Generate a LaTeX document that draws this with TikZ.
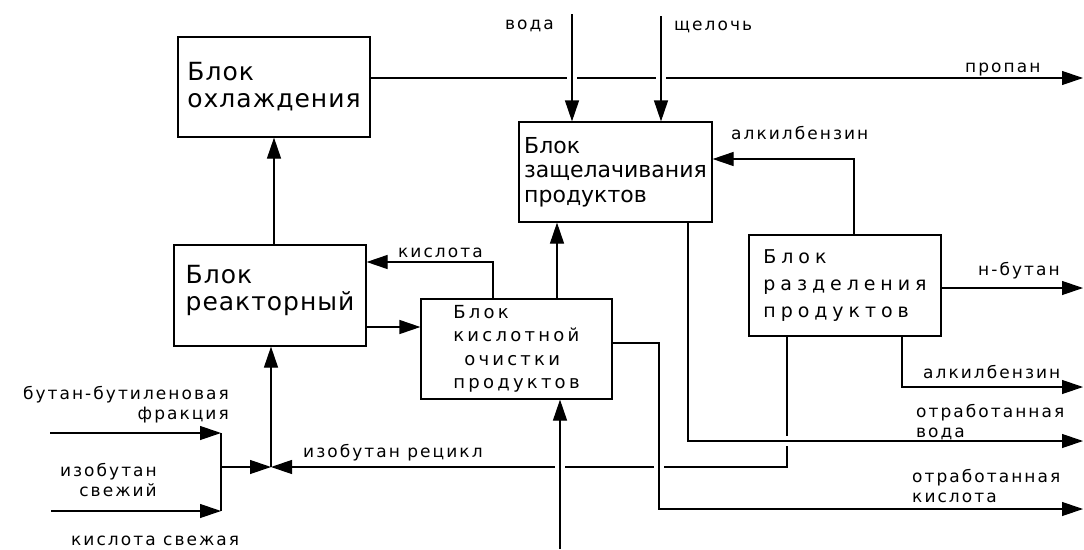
\documentclass[tikz,border=0pt]{standalone}
\usepackage{fontspec}
\setmainfont{DejaVu Sans}
\newfontfamily\cadfont{DejaVu Sans}
\usetikzlibrary{arrows.meta,positioning,calc}

\begin{document}
\begin{tikzpicture}[
  x=1pt,y=-1pt,
  line join=miter,
  flowline/.style={black,line width=1.2pt},
  flow/.style={flowline,-{Triangle[length=21pt,width=14pt]}},
  halo/.style={white,line width=10pt},
  block/.style={draw=black,line width=1.2pt,align=left,inner sep=0pt,
    minimum width=192pt,minimum height=100pt},
  bigbox/.style={font=\cadfont\fontsize{25}{27}\selectfont\addfontfeature{LetterSpace=4}},
  alkbox/.style={font=\cadfont\fontsize{22}{24.5}\selectfont},
  acidbox/.style={font=\cadfont\fontsize{18}{23.5}\selectfont\addfontfeature{LetterSpace=18}},
  sepbox/.style={font=\cadfont\fontsize{19}{27}\selectfont\addfontfeature{LetterSpace=26}},
  lbl/.style={font=\cadfont\fontsize{17}{20}\selectfont\addfontfeature{LetterSpace=12},inner sep=0pt}
]
\useasboundingbox[fill=white] (0,0) rectangle (1084,549);

% blocks
\node[block,bigbox] (cool) at (274,87) {Блок\\охлаждения};
\node[block,bigbox,minimum height=101pt] (reac) at (270,295.5) {Блок\\реакторный\\[-12pt]\mbox{}};
\node[block,alkbox,minimum width=193pt] (alk) at (615.5,172) {Блок\\защелачивания\\продуктов};
\node[block,acidbox,minimum width=191pt] (acid) at (516.5,349)
  {Блок\\кислотной\\\hphantom{к}очистки\\продуктов};
\node[block,sepbox,minimum height=101pt] (sep) at (845,285.5) {Блок\\разделения\\продуктов};

% free ends and bends
\coordinate (propanout) at (1083,78);
\coordinate (vodain) at (572,14);
\coordinate (alkalin) at (661,16);
\coordinate (alkbturn) at (854,159);
\coordinate (acidturn) at (493,262);
\coordinate (reacout) at (0,327);
\coordinate (acidup) at (557,0);
\coordinate (acidin) at (560,549);
\coordinate (junc) at (271,467);
\coordinate (bbfin) at (50,433);
\coordinate (isoin) at (51,511);
\coordinate (merge) at (221,467);
\coordinate (recycle) at (787,467);
\coordinate (waterturn) at (688,441);
\coordinate (waterout) at (1083,441);
\coordinate (acidturnA) at (659,343);
\coordinate (acidturnB) at (659,509);
\coordinate (acidout) at (1083,509);
\coordinate (butout) at (1083,288);
\coordinate (alkbturnB) at (902,387);
\coordinate (alkbout) at (1083,387);

% upper flows
\draw[flow] (propanout -| cool.east) -- (propanout);
\draw[halo,shorten >=25pt] (vodain) -- (vodain |- alk.north);
\draw[halo,shorten >=25pt] (alkalin) -- (alkalin |- alk.north);
\draw[flow] (vodain) -- (vodain |- alk.north);
\draw[flow] (alkalin) -- (alkalin |- alk.north);
\draw[flow] (alkbturn |- sep.north) -- (alkbturn) -- (alkbturn -| alk.east);
\draw[flow] (cool.south |- reac.north) -- (cool.south);
\draw[flow] (acidturn |- acid.north) -- (acidturn) -- (acidturn -| reac.east);
\draw[flow] (reacout -| reac.east) -- (reacout -| acid.west);
\draw[flow] (acidup |- acid.north) -- (acidup |- alk.south);

% feed
\draw[flow] (bbfin) -- (bbfin -| merge);
\draw[flow] (isoin) -- (isoin -| merge);
\draw[flowline] (merge |- bbfin) -- (merge |- isoin);
\draw[flow] (merge) -- (junc);
\draw[flow] (junc) -- (junc |- reac.south);
\draw[flow] (recycle |- sep.south) -- (recycle) -- (junc);

% lower flows, with gaps at crossings
\draw[halo,shorten >=25pt] (acidin) -- (acidin |- acid.south);
\draw[halo,shorten <=10pt,shorten >=10pt] (acidturnA) -- (acidturnB);
\draw[halo,shorten <=10pt,shorten >=30pt] (waterturn) -- (waterout);
\draw[flow] (acidin) -- (acidin |- acid.south);
\draw[flow] (acidturnA -| acid.east) -- (acidturnA) -- (acidturnB) -- (acidout);
\draw[flow] (waterturn |- alk.south) -- (waterturn) -- (waterout);
\draw[flow] (butout -| sep.east) -- (butout);
\draw[flow] (alkbturnB |- sep.south) -- (alkbturnB) -- (alkbout);

% labels
\node[lbl,anchor=base west] (lpropan) at (965,72) {пропан};
\node[lbl,anchor=base west] (lvoda) at (505,29) {вода};
\node[lbl,anchor=base west] (lalkali) at (674,30) {щелочь};
\node[lbl,anchor=base west] (lalkb) at (731,139) {алкилбензин};
\node[lbl,anchor=base west] (lacid) at (398,257) {кислота};
\node[lbl,anchor=base west] (lbutane) at (978,275) {н-бутан};
\node[lbl,anchor=base west] (lalkbB) at (923,378) {алкилбензин};
\node[lbl,anchor=north west,align=left] (lwater) at (916,404) {отработанная\\вода};
\node[lbl,anchor=north west,align=left] (lspent) at (912,469) {отработанная\\кислота};
\node[lbl,anchor=north east,align=right] (lbbf) at (229,386) {бутан-бутиленовая\\фракция};
\node[lbl,anchor=north east,align=right] (liso) at (157,463) {изобутан\\свежий};
\node[lbl,anchor=base west] (lfreshacid) at (71,545) {кислота свежая};
\node[lbl,anchor=base west] (lrecycle) at (303,457) {изобутан рецикл};
\end{tikzpicture}
\end{document}
